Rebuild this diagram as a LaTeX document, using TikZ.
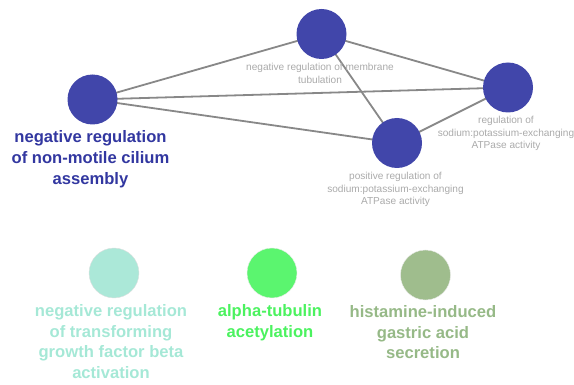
\documentclass[tikz,border=0pt]{standalone}
\usepackage{fontspec}
\setmainfont{Liberation Sans}
\usetikzlibrary{backgrounds}
\definecolor{nodeblue}{RGB}{65,70,170}
\definecolor{labblue}{RGB}{50,55,160}
\definecolor{labgray}{RGB}{170,170,170}
\definecolor{edgegray}{RGB}{136,136,136}
\definecolor{tealc}{RGB}{171,232,216}
\definecolor{tealt}{RGB}{165,232,214}
\definecolor{greenc}{RGB}{91,245,111}
\definecolor{greent}{RGB}{75,242,95}
\definecolor{olivec}{RGB}{159,189,141}
\definecolor{olivet}{RGB}{150,185,135}
\begin{document}
\begin{tikzpicture}[x=1pt,y=1pt,
  term/.style={circle,minimum size=50pt,inner sep=0pt},
  bigterm/.style={term,fill=nodeblue},
  edge/.style={draw=edgegray,line width=1.8pt},
  smalllab/.style={anchor=north,inner sep=0pt,align=center,text=labgray,font=\fontsize{10.1}{12.5}\selectfont},
  biglab/.style={anchor=north,inner sep=0pt,align=center,font=\bfseries\fontsize{16.6}{20.8}\selectfont}]
\useasboundingbox (0,0) rectangle (574,-385);
% nodes
\node[bigterm] (A) at (92.5,-99.5) {};
\node[bigterm] (B) at (321.5,-34) {};
\node[bigterm] (C) at (508,-87.5) {};
\node[bigterm] (D) at (397,-143) {};
% edges (behind circles)
\begin{scope}[on background layer]
\draw[edge] (A.center) -- (B.center);
\draw[edge] (A.center) -- (C.center);
\draw[edge] (A.center) -- (D.center);
\draw[edge] (B.center) -- (C.center);
\draw[edge] (B.center) -- (D.center);
\draw[edge] (D.center) -- (C.center);
\end{scope}
% labels
\node[biglab,text=labblue] (LA) at (90.5,-130.5) {negative regulation\\of non-motile cilium\\assembly};
\node[smalllab] (LB) at (320,-63) {negative regulation of membrane\\tubulation};
\node[smalllab] (LC) at (506,-116) {regulation of\\sodium:potassium-exchanging\\ATPase activity};
\node[smalllab] (LD) at (395.5,-172) {positive regulation of\\sodium:potassium-exchanging\\ATPase activity};
% bottom singletons
\node[term,fill=tealc,draw=black!12,line width=0.4pt] (E) at (114,-273) {};
\node[term,fill=greenc,draw=black!8,line width=0.4pt] (F) at (272,-273) {};
\node[term,fill=olivec,draw=black!8,line width=0.4pt] (G) at (425.5,-275) {};
\node[biglab,text=tealt] (LE) at (111,-304) {negative regulation\\of transforming\\growth factor beta\\activation};
\node[biglab,text=greent] (LF) at (270,-304) {alpha-tubulin\\acetylation};
\node[biglab,text=olivet] (LG) at (423,-305) {histamine-induced\\gastric acid\\secretion};
\end{tikzpicture}
\end{document}
